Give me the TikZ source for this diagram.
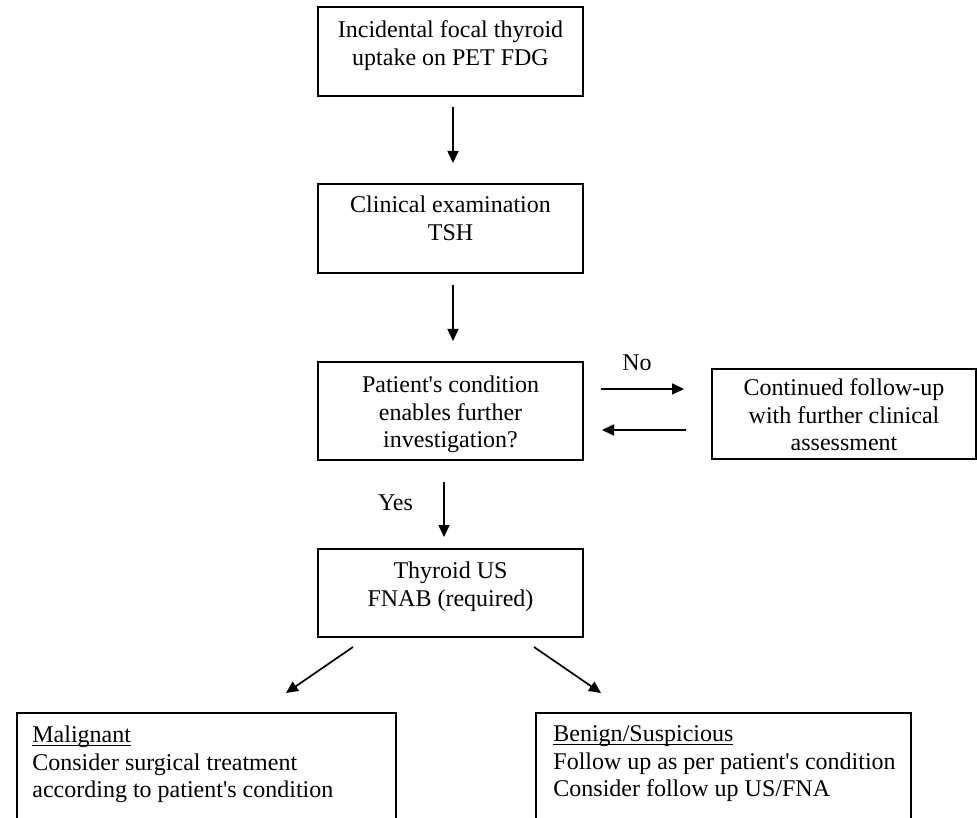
\documentclass[tikz,border=0pt]{standalone}
\usepackage{fontspec}
\setmainfont{Liberation Serif}
\usetikzlibrary{arrows.meta,calc}
\newcommand\myul[1]{\setbox0\hbox{#1}\rlap{\rule[-1.6pt]{\wd0}{0.55pt}}\box0}
\begin{document}
\begin{tikzpicture}[x=0.5pt,y=-0.5pt,
  box/.style={draw, line width=0.6pt, inner sep=0pt, outer sep=0pt},
  cbox/.style={box, minimum width=132.5pt},
  txt/.style={anchor=north, inner sep=0pt, align=center, font=\fontsize{12}{13.75}\selectfont},
  ltxt/.style={anchor=north west, inner sep=0pt, align=left, font=\fontsize{12}{13.75}\selectfont},
  arr/.style={line width=0.85pt, -{Triangle[length=6pt,width=5.5pt]}},
  lbl/.style={anchor=base, inner sep=0pt, font=\fontsize{12}{13.75}\selectfont}]
\useasboundingbox (0,0) rectangle (977,817);

% boxes
\node[cbox, minimum height=44.5pt] (b1) at (450.5,51.5) {};
\node[cbox, minimum height=44.5pt] (b2) at (450.5,228.5) {};
\node[cbox, minimum height=49pt] (b3) at (450.5,411) {};
\node[box, minimum width=132pt, minimum height=45pt] (b5) at (844,414) {};
\node[cbox, minimum height=44pt] (b4) at (450.5,593) {};
\node[box, minimum width=189.5pt, minimum height=73.5pt] (b6) at (206.5,786.5) {};
\node[box, minimum width=187.5pt, minimum height=73.5pt] (b7) at (723.5,786.5) {};

% texts
\node[txt] (t1) at ($(b1.north)+(0,13.6)$) {Incidental focal thyroid\\uptake on PET FDG};
\node[txt] (t2) at ($(b2.north)+(0,11.6)$) {Clinical examination\\TSH};
\node[txt] (t3) at ($(b3.north)+(0,13.6)$) {Patient\textquotesingle s condition\\enables further\\investigation?};
\node[txt] (t5) at ($(b5.north)+(0,9.6)$) {Continued follow-up\\with further clinical\\assessment};
\node[txt] (t4) at ($(b4.north)+(0,12.6)$) {Thyroid US\\FNAB (required)};
\node[ltxt] (t6) at ($(b6.north west)+(15,12.6)$) {\myul{Malignant}\\Consider surgical treatment\\according to patient\textquotesingle s condition};
\node[ltxt] (t7) at ($(b7.north west)+(17,12.6)$) {\myul{Benign/Suspicious}\\Follow up as per patient\textquotesingle s condition\\Consider follow up US/FNA};

% labels
\node[lbl] (no) at (637,371) {No};
\node[lbl] (yes) at (395.5,510) {Yes};

% connectors
\draw[arr, shorten <=5.5pt, shorten >=10.5pt] ([xshift=1.25pt]b1.south) -- ([xshift=1.25pt]b2.north);
\draw[arr, shorten <=6pt, shorten >=10.5pt] ([xshift=1.25pt]b2.south) -- ([xshift=1.25pt]b3.north);
\draw[arr, shorten <=11pt, shorten >=6pt] ([xshift=-3.25pt]b3.south) -- ([xshift=-3.25pt]b4.north);
\draw[arr, shorten <=9pt, shorten >=14pt] (b3.east |- 0,389) -- (b5.west |- 0,389);
\draw[arr, shorten <=13pt, shorten >=9.5pt] (b5.west |- 0,430) -- (b3.east |- 0,430);
\coordinate (d1s) at (353,647);
\coordinate (d1e) at (286,693);
\coordinate (d2s) at (534,647);
\coordinate (d2e) at (601,693);
\draw[arr] (d1s) -- (d1e);
\draw[arr] (d2s) -- (d2e);
\end{tikzpicture}
\end{document}
